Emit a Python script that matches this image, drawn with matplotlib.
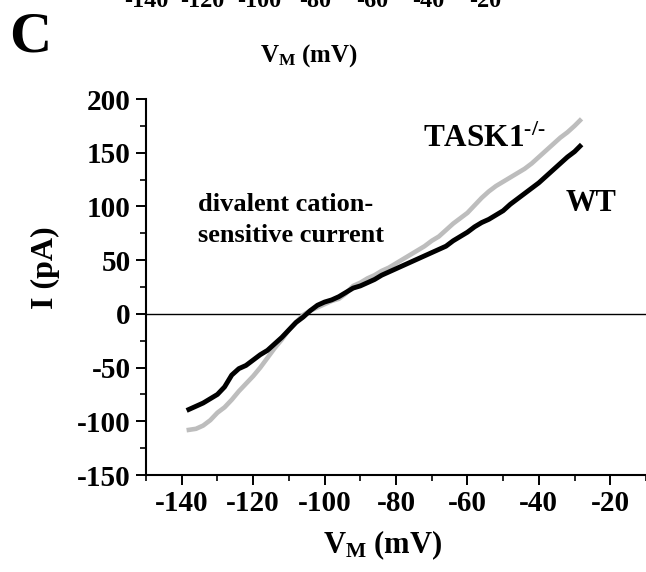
import matplotlib
matplotlib.use("Agg")
import matplotlib.pyplot as plt
from matplotlib.ticker import MultipleLocator
from matplotlib.transforms import blended_transform_factory

plt.rcParams["font.family"] = ["Liberation Serif", "DejaVu Serif"]
plt.rcParams["font.weight"] = "bold"
plt.rcParams["axes.unicode_minus"] = False
plt.rcParams["mathtext.fontset"] = "custom"
plt.rcParams["mathtext.rm"] = "Liberation Serif:bold"
plt.rcParams["mathtext.default"] = "rm"

# ─── DATA ──────────────────────────────────────────────────────────────────
wt_v = [-138, -136, -134, -132, -130, -128, -126, -124, -122, -120, -118,
        -116, -114, -112, -110, -108, -106, -104, -102, -100, -98, -96, -94,
        -92, -90, -88, -86, -84, -82, -80, -78, -76, -74, -72, -70, -68, -66,
        -64, -62, -60, -58, -56, -54, -52, -50, -48, -46, -44, -42, -40, -38,
        -36, -34, -32, -30, -28.5]
wt_i = [-89, -86, -83, -79, -75, -68, -57, -51, -48, -43, -38,
        -34, -28, -22, -15, -8, -3, 3, 8, 11, 13, 16, 20,
        24, 26, 29, 32, 36, 39, 42, 45, 48, 51, 54, 57, 60, 63,
        68, 72, 76, 81, 85, 88, 92, 96, 102, 107, 112, 117, 122, 128,
        134, 140, 146, 151, 156]

ko_v = [-138, -136, -134, -132, -130, -128, -126, -124, -122, -120, -118,
        -116, -114, -112, -110, -108, -106, -104, -102, -100, -98, -96, -94,
        -92, -90, -88, -86, -84, -82, -80, -78, -76, -74, -72, -70, -68, -66,
        -64, -62, -60, -58, -56, -54, -52, -50, -48, -46, -44, -42, -40, -38,
        -36, -34, -32, -30, -28.5]
ko_i = [-108, -107, -104, -99, -92, -87, -80, -72, -65, -58, -50,
        -41, -32, -24, -15, -8, -1, 3, 6, 9, 12, 14, 19,
        26, 29, 33, 36, 40, 43, 47, 51, 55, 59, 63, 68, 72, 78,
        84, 89, 94, 101, 108, 114, 119, 123, 127, 131, 135, 140, 146, 152,
        158, 164, 169, 175, 180]

x_ticks = [-140, -120, -100, -80, -60, -40, -20]
y_ticks = [-150, -100, -50, 0, 50, 100, 150, 200]
top_ticks = [-140, -120, -100, -80, -60, -40, -20]

fig = plt.figure(figsize=(6.46, 5.72), dpi=100)

# remnant of the panel above (cropped tick labels and axis label)
ax_top = fig.add_axes([0.1823, 1.0, 0.6122, 0.05])
ax_top.set_xlim(-150, -10)
ax_top.axis("off")
trans = blended_transform_factory(ax_top.transData, fig.transFigure)
for t in top_ticks:
    ax_top.text(t, 1 - 7 / 572, str(t), transform=trans, ha="center",
                va="baseline", fontsize=17.5, clip_on=False)
fig.text(309 / 646, 1 - 62 / 572, r"$\mathrm{V_M}$ (mV)", ha="center",
         va="baseline", fontsize=18)

fig.text(9 / 646, 1 - 52 / 572, "C", fontsize=42, ha="left", va="baseline")

# main axes
ax = fig.add_axes([146 / 646, 97 / 572, 500 / 646, 376 / 572])
ax.plot(ko_v, ko_i, color="#bdbdbd", linewidth=3.3, zorder=2)
ax.plot(wt_v, wt_i, color="black", linewidth=3.5, zorder=3)
ax.axhline(0, color="black", linewidth=1.0, zorder=1)

ax.set_xlim(-150, -10)
ax.set_ylim(-150, 200)
ax.set_xticks(x_ticks)
ax.set_yticks(y_ticks)
ax.xaxis.set_minor_locator(MultipleLocator(10))
ax.yaxis.set_minor_locator(MultipleLocator(25))
ax.tick_params(which="major", direction="out", length=7, width=1.4,
               labelsize=21, pad=4)
ax.tick_params(which="minor", direction="out", length=4, width=1.2)
for s in ["top", "right"]:
    ax.spines[s].set_visible(False)
for s in ["left", "bottom"]:
    ax.spines[s].set_linewidth(1.5)

ax.text(-135.5, 96, "divalent cation-", fontsize=19, ha="left",
        va="baseline")
ax.text(-135.5, 67, "sensitive current", fontsize=19, ha="left",
        va="baseline")
ax.text(-72.4, 155.5, "TASK1$^{\u2010/\u2010}$", fontsize=22.5, ha="left",
        va="baseline")
ax.text(-32.6, 103, "WT", fontsize=22, ha="left", va="center")

fig.text(383 / 646, 1 - 553 / 572, r"$\mathrm{V_M}$ (mV)", ha="center",
         va="baseline", fontsize=22)
fig.text(45 / 646, 1 - 268 / 572, "I (pA)", rotation=90, ha="center",
         va="center", fontsize=23)

fig.savefig("out.png", dpi=100)
